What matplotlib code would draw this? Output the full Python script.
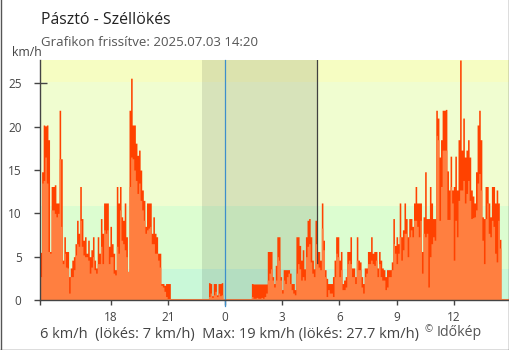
import matplotlib
matplotlib.use("Agg")
import matplotlib.pyplot as plt
from matplotlib.lines import Line2D
import numpy as np

plt.rcParams['font.family'] = ['Open Sans', 'DejaVu Sans']

title = "Pásztó - Széllökés"
subtitle = "Grafikon frissítve: 2025.07.03 14:20"
unit = "km/h"
credit_mark = "©"
credit = "Időkép"

# time axis, hours relative to midnight of the update day
start_hour = -9.7
step_min = 5
tick_hours = [-9.7, -6, -3, 0, 3, 6, 9, 12]
tick_labels = ["", "18", "21", "0", "3", "6", "9", "12"]
y_ticks = [0, 5, 10, 15, 20, 25]

# wind bands (1, 3, 7 m/s in km/h)
band_edges = [0, 3.6, 10.8, 25.2]
band_colors = ["#c9f8d8", "#dcfdd0", "#f0fdd0", "#f6fdc2"]
night_span = (-1.2, 4.8)
sunrise_hour = 4.8

# gusts (km/h), 5-minute samples
gust = [
    5.5, 14.8, 20.2, 20.1, 20.2, 18.5, 5.6, 13.1, 13.1, 13.3, 11.2, 11.2,
    21.9, 16.3, 4.6, 7.3, 5.6, 5.6, 2.7, 3.7, 4.6, 5.0, 6.5, 9.2,
    7.7, 13.1, 9.4, 6.9, 7.3, 5.4, 6.9, 5.0, 5.8, 7.3, 4.6, 3.7,
    7.3, 5.4, 9.4, 7.7, 11.2, 11.2,
    11.2, 6.2, 8.5, 6.5, 5.4, 3.5, 13.1, 11.2, 13.1, 9.6, 9.2, 11.2,
    7.3, 3.3, 21.9, 25.6, 20.2, 20.2, 18.1, 16.7, 17.3, 15.0, 12.7, 11.5,
    8.5, 11.2, 11.2, 11.2, 7.7, 9.6, 7.7, 7.3, 5.4, 5.4, 1.9, 1.9,
    1.7, 1.9, 1.9, 1.9,
    0, 0, 0, 0, 0, 0, 0, 0, 0, 0, 0, 0,
    0, 0, 0, 0, 0, 0, 0, 0, 0, 0, 0, 0,
    2.0, 1.9, 0.5, 1.9, 1.9, 0.6, 1.9, 1.9, 2.0,
    0, 0, 0, 0, 0, 0, 0, 0, 0, 0, 0, 0, 0, 0, 0, 0, 0, 0,
    1.9, 1.85, 1.85, 1.85, 1.85, 1.85, 1.85, 1.85, 1.85, 1.85,
    5.6, 5.6, 5.6, 2.7, 1.9, 4.0, 7.3, 7.3, 2.7, 1.2, 3.5, 3.5,
    3.5, 3.5, 3.1, 1.9, 1.9, 1.2, 7.3, 7.3, 6.3, 4.6, 5.8, 3.6,
    7.3, 9.2, 9.4, 7.3, 4.6, 3.6, 9.2, 5.6, 5.6, 4.6,
    11.2, 6.9, 3.5, 2.5, 1.9, 1.9, 1.9, 2.7, 4.6, 7.3, 7.3, 4.6,
    5.6, 1.9, 2.3, 2.7, 5.6, 5.6, 7.3, 3.7, 3.7, 2.7, 7.3, 4.6,
    4.4, 2.7, 1.9, 3.7, 3.7, 5.6, 5.6, 7.3, 5.4, 5.6, 5.6, 3.7,
    5.6, 4.6,
    3.7, 3.5, 2.7, 3.5, 3.5, 3.5, 4.4, 9.4, 6.3, 7.3, 6.5, 11.2,
    7.3, 8.1, 11.2, 9.4, 7.3, 9.4, 9.4, 8.5, 11.2, 13.1, 11.2, 11.2,
    11.2, 5.6, 9.6, 14.8, 9.4, 9.4, 13.1, 11.2, 9.4, 9.4, 21.9, 21.0,
    16.5, 18.5, 21.9, 21.9,
    22.0, 14.9, 12.7, 16.6, 12.7, 13.1, 16.6, 12.7, 18.5, 27.7, 17.3, 21.0,
    16.5, 17.3, 18.5, 16.5, 12.7, 12.0, 11.2, 14.8, 20.2, 21.9, 18.5, 9.6,
    9.4, 13.1, 13.1, 11.2, 9.6, 13.1, 13.1, 11.2, 12.7, 11.2, 7.0,
]

# mean wind (km/h), same samples
wind = [
    2.7, 13.5, 13.8, 16.5, 13.5, 5.6, 5.4, 10.4, 10.4, 10.0, 9.6, 10.0,
    16.3, 8.5, 4.2, 5.4, 3.8, 3.7, 0.8, 2.7, 2.7, 3.5, 5.2, 6.5,
    6.2, 9.2, 6.2, 5.2, 5.0, 5.0, 4.6, 3.1, 3.8, 5.0, 3.5, 3.1,
    4.2, 4.2, 6.2, 4.2, 8.1, 7.7,
    8.1, 4.2, 5.0, 5.0, 3.1, 2.9, 6.2, 5.4, 10.4, 6.9, 6.5, 5.8,
    5.0, 3.3, 13.1, 16.5, 16.3, 15.0, 13.8, 12.3, 13.5, 11.5, 10.4, 9.2,
    7.7, 8.1, 8.3, 8.5, 6.5, 6.5, 5.4, 5.4, 4.6, 3.8, 1.7, 1.5,
    1.0, 0.4, 0.1, 0.0,
    0, 0, 0, 0, 0, 0, 0, 0, 0, 0, 0, 0,
    0, 0, 0, 0, 0, 0, 0, 0, 0, 0, 0, 0,
    0.4, 0.8, 0.3, 0.6, 1.0, 0.4, 0.8, 0.5, 0.6,
    0, 0, 0, 0, 0, 0, 0, 0, 0, 0, 0, 0, 0, 0, 0, 0, 0, 0,
    0.4, 0.2, 0.2, 0.3, 0.2, 0.2, 0.3, 0.2, 0.4, 0.8,
    2.3, 3.1, 3.6, 2.3, 1.5, 2.3, 5.0, 4.6, 2.3, 0.8, 2.3, 1.9,
    2.7, 3.1, 1.9, 1.2, 0.8, 0.6, 3.1, 4.2, 3.6, 2.3, 2.7, 2.3,
    5.0, 6.2, 6.5, 4.4, 3.1, 2.7, 6.5, 4.2, 3.8, 3.5,
    8.3, 5.8, 2.7, 0.4, 1.2, 0.8, 0.8, 0.4, 2.7, 5.4, 5.0, 2.7,
    3.5, 1.2, 1.2, 1.5, 4.2, 4.6, 4.2, 2.7, 2.7, 1.9, 4.6, 3.5,
    3.5, 1.5, 0.8, 2.7, 3.1, 4.2, 4.2, 4.6, 4.2, 4.0, 4.6, 2.7,
    4.2, 2.7,
    2.3, 2.3, 1.2, 1.5, 2.7, 2.7, 3.5, 6.5, 5.4, 4.2, 5.4, 7.3,
    4.6, 5.8, 7.7, 7.7, 5.0, 7.3, 8.1, 7.3, 9.2, 9.2, 8.5, 7.3,
    9.2, 3.1, 7.7, 7.3, 7.7, 1.5, 5.0, 6.5, 7.3, 6.9, 19.0, 18.5,
    9.2, 13.1, 17.3, 17.3,
    17.3, 9.3, 9.3, 13.1, 11.2, 4.6, 9.2, 7.3, 11.5, 12.7, 12.7, 13.8,
    11.2, 12.3, 13.8, 11.5, 9.4, 9.5, 9.6, 10.4, 13.5, 14.6, 12.7, 6.9,
    4.2, 9.4, 11.2, 7.7, 7.3, 9.2, 8.5, 5.4, 4.4, 9.2, 6.0,
]

GUST_COLOR = "#ff4200"
WIND_COLOR = "#ff7f40"
AXIS_COLOR = "#444444"

W, H = 510, 350
fig = plt.figure(figsize=(W / 100, H / 100), dpi=100)
ax = fig.add_axes([40 / W, 1 - 300 / H, 469 / W, 240 / H])

t = start_hour + np.arange(len(gust)) * step_min / 60.0
t_edges = np.append(t, t[-1] + step_min / 60.0)
g = np.append(gust, gust[-1])
w = np.append(wind, wind[-1])

y_top = max(gust)
x_right = 14.89
ax.set_xlim(start_hour, x_right)
ax.set_ylim(0, y_top)

# background wind bands
tops = band_edges[1:] + [y_top]
for lo, hi, c in zip(band_edges, tops, band_colors):
    ax.axhspan(lo, hi, color=c, lw=0, zorder=0)

# night shading
ax.axvspan(night_span[0], night_span[1], color="black", alpha=0.1, lw=0, zorder=1)

ax.fill_between(t_edges, 0, g, step="post", color=GUST_COLOR, lw=0, zorder=2)
ax.axvline(sunrise_hour, color="#404040", lw=0.9, zorder=2.5)
ax.fill_between(t_edges, 0, w, step="post", color=WIND_COLOR, lw=0, zorder=3)
ax.axhline(0, color=WIND_COLOR, lw=2.2, zorder=3.2)

# midnight marker
ax.plot([0, 0], [-0.75, y_top], color="#3d8fcb", lw=0.9, zorder=4, clip_on=False)

for side in ("top", "right"):
    ax.spines[side].set_visible(False)
for side in ("left", "bottom"):
    ax.spines[side].set_color(AXIS_COLOR)
    ax.spines[side].set_linewidth(1.0)
    ax.spines[side].set_zorder(5)

ax.set_yticks(y_ticks)
ax.set_xticks(tick_hours)
ax.set_xticklabels(tick_labels)
ax.tick_params(axis="y", length=4.3, width=1.0, color=AXIS_COLOR, pad=9.0,
               labelsize=8.5, labelcolor=AXIS_COLOR)
ax.tick_params(axis="x", length=3.6, width=1.0, color=AXIS_COLOR, pad=4.0,
               labelsize=8.5, labelcolor=AXIS_COLOR)
# short inner mark at the top gridline value
ax.plot([start_hour, start_hour + 7 / 19.07], [25, 25], color=AXIS_COLOR,
        lw=1.0, zorder=5, solid_capstyle="butt")

# titles and labels
fig.text(41 / W, 1 - 23.5 / H, title, fontsize=11.4, color="#222222", va="baseline")
fig.text(41 / W, 1 - 45.5 / H, subtitle, fontsize=9.5, color="#555555", va="baseline")
fig.text(12 / W, 1 - 56 / H, unit, fontsize=8.8, color=AXIS_COLOR, va="baseline")

summary = (f"{wind[-1]:.0f} km/h  (lökés: {gust[-1]:.0f} km/h)  "
           f"Max: {max(wind):.0f} km/h (lökés: {max(gust):.1f} km/h)")
fig.text(40 / W, 1 - 338.3 / H, summary, fontsize=10.5, color=AXIS_COLOR, va="baseline")
fig.text(425 / W, 1 - 332 / H, credit_mark, fontsize=7, color="#555555", va="baseline")
fig.text(437 / W, 1 - 335.7 / H, credit, fontsize=10.2, color="#555555", va="baseline")

# outer frame
for xs, ys in (([0.5 / W, 0.5 / W], [0, 1]),
               ([1 - 0.5 / W, 1 - 0.5 / W], [0, 1]),
               ([0, 1], [0.5 / H, 0.5 / H])):
    fig.add_artist(Line2D(xs, ys, color="#555555", lw=1.0))

fig.savefig("out.png", dpi=100)
